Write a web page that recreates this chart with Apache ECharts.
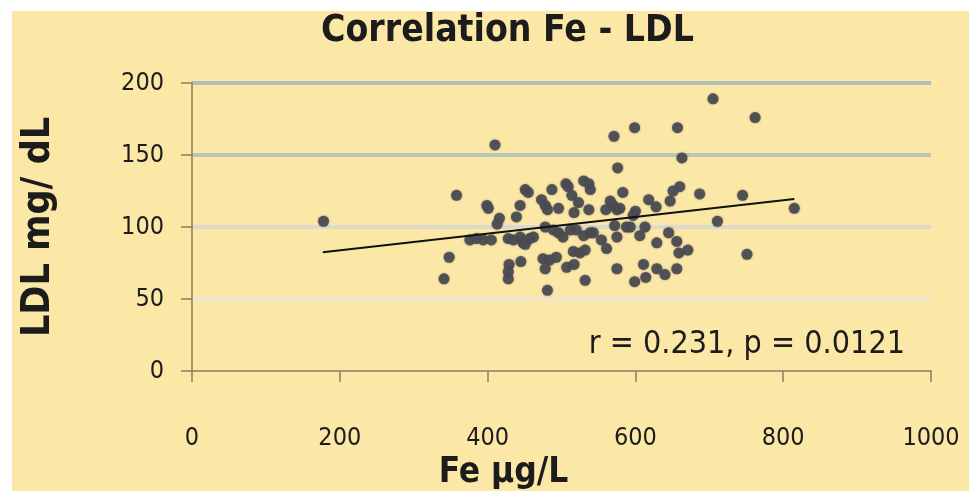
<!DOCTYPE html>
<html>
<head>
<meta charset="utf-8">
<script src="https://cdn.jsdelivr.net/npm/echarts@6/dist/echarts.min.js"></script>
<style>
  html, body { margin: 0; padding: 0; background: #ffffff; }
  #chart { width: 969px; height: 491px; }
</style>
</head>
<body>
<div id="chart"></div>
<script>
'use strict';

// Fe (µg/L) vs LDL (mg/dL)
const feValues = [
  178, 358, 348, 341, 376, 385, 394, 405, 399, 401,
  410, 416, 413, 428, 435, 429, 428, 428, 439, 444,
  445, 444, 448, 451, 455, 457, 462, 451, 473, 478,
  481, 475, 484, 478, 481, 478, 487, 489, 493, 496,
  496, 502, 506, 509, 507, 514, 517, 512, 520, 516,
  523, 517, 525, 532, 532, 530, 537, 539, 537, 530,
  539, 543, 554, 561, 560, 566, 570, 575, 572, 575,
  575, 571, 576, 579, 583, 588, 593, 599, 600, 597,
  599, 606, 613, 611, 614, 618, 628, 629, 629, 640,
  645, 647, 651, 660, 657, 663, 656, 659, 671, 656,
  687, 705, 711, 745, 751, 762, 815
];
const ldlValues = [
  104, 122, 79, 64, 91, 92, 91, 91, 115, 113,
  157, 106, 102, 92, 91, 74, 69, 64, 107, 115,
  76, 93, 89, 126, 124, 92, 93, 88, 119, 115,
  112, 78, 77, 71, 56, 100, 126, 98, 79, 113,
  96, 93, 130, 128, 72, 122, 74, 98, 98, 83,
  117, 110, 82, 84, 63, 132, 130, 126, 112, 94,
  96, 96, 91, 85, 112, 118, 115, 112, 101, 93,
  71, 163, 141, 113, 124, 100, 100, 169, 111, 108,
  62, 94, 100, 74, 65, 119, 114, 89, 71, 67,
  96, 118, 125, 128, 169, 148, 90, 82, 84, 71,
  123, 189, 104, 122, 81, 176, 113
];

// fitted line end points
const trendFe = [177, 815];
const trendLdl = [82.4, 119.4];

const xTicks = [0, 200, 400, 600, 800, 1000];
const yTicks = [0, 50, 100, 150, 200];

const points = feValues.map((v, i) => [v, ldlValues[i]]);
const trend = trendFe.map((v, i) => [v, trendLdl[i]]);

const labelFont = "'Liberation Sans Narrow', 'DejaVu Sans Condensed', Lato, sans-serif";

const chart = echarts.init(document.getElementById('chart'));
chart.setOption({
  backgroundColor: '#ffffff',
  animation: false,
  graphic: [
    {
      type: 'rect', z: -10, silent: true,
      shape: { x: 12, y: 11, width: 969, height: 491 },
      style: { fill: '#FCE8A6' },
    },
    {
      type: 'text', right: 64, top: 329, z: 10,
      style: {
        text: 'r = 0.231, p = 0.0121',
        font: "32px " + labelFont,
        fill: '#1c1c1c',
      },
    },
  ],
  title: {
    text: 'Correlation Fe - LDL',
    left: 316, top: 8,
    textStyle: { fontFamily: labelFont, fontWeight: 'bold', fontSize: 37, color: '#1c1c1c' },
  },
  grid: { left: 192, right: 38, top: 83, bottom: 120, outerBoundsMode: 'none', containLabel: false },
  xAxis: {
    type: 'value', min: 0, max: 1000, interval: 200,
    name: 'Fe µg/L', nameLocation: 'middle', nameGap: 82,
    nameTextStyle: { fontFamily: labelFont, fontWeight: 'bold', fontSize: 35, color: '#1c1c1c', padding: [0, 116, 0, 0] },
    axisLine: { lineStyle: { color: '#8a7e5e', width: 1.5 } },
    axisTick: { show: true, inside: false, length: 11, lineStyle: { color: '#8a7e5e', width: 1.5 } },
    axisLabel: {
      margin: 55, color: '#1c1c1c', fontFamily: labelFont, fontSize: 25,
      formatter: (v) => (xTicks.includes(v) ? String(v) : ''),
    },
    splitLine: { show: false },
  },
  yAxis: {
    type: 'value', min: 0, max: 200, interval: 50,
    name: 'LDL mg/ dL', nameLocation: 'middle', nameGap: 134, nameRotate: 90,
    nameTextStyle: { fontFamily: labelFont, fontWeight: 'bold', fontSize: 39, color: '#1c1c1c' },
    axisLine: { show: true, lineStyle: { color: '#8a7e5e', width: 1.5 } },
    axisTick: { show: true, inside: false, length: 11, lineStyle: { color: '#8a7e5e', width: 1.5 } },
    axisLabel: {
      margin: 28, color: '#1c1c1c', fontFamily: labelFont, fontSize: 25,
      formatter: (v) => (yTicks.includes(v) ? String(v) : ''),
    },
    splitLine: {
      show: true,
      lineStyle: { width: 4, color: ['#FCE8A6', '#EDE5CB', '#DCDACD', '#B9C5BC', '#B0BFB9'] },
    },
  },
  series: [
    {
      type: 'scatter',
      data: points,
      symbolSize: 11,
      itemStyle: { color: '#4b4b52', opacity: 0.92, shadowBlur: 2, shadowColor: 'rgba(60,60,70,0.6)' },
      z: 3,
    },
    {
      type: 'line',
      data: trend,
      symbol: 'none',
      lineStyle: { color: '#111111', width: 2 },
      z: 4,
    },
  ],
});
</script>
</body>
</html>
